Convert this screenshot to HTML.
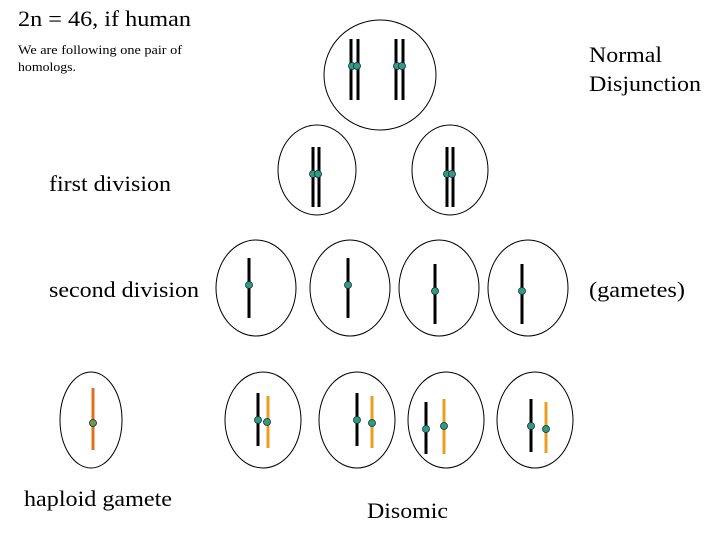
<!DOCTYPE html>
<html><head><style>
body{margin:0;background:#fff;}
svg text{font-family:"Liberation Serif",serif;fill:#000;}
</style></head><body>
<svg width="720" height="540" viewBox="0 0 720 540" xmlns="http://www.w3.org/2000/svg">
<g fill="none" stroke="#000" stroke-width="1">
<ellipse cx="380" cy="75" rx="56" ry="55"/>
<ellipse cx="317" cy="170" rx="39" ry="45"/>
<ellipse cx="450" cy="170" rx="38" ry="45"/>
<ellipse cx="256" cy="288" rx="40" ry="48"/>
<ellipse cx="350" cy="288" rx="40" ry="48"/>
<ellipse cx="439" cy="288" rx="40" ry="48"/>
<ellipse cx="528" cy="288" rx="40" ry="48"/>
<ellipse cx="91" cy="420" rx="31" ry="48"/>
<ellipse cx="263" cy="420" rx="38" ry="48"/>
<ellipse cx="357" cy="420" rx="38" ry="48"/>
<ellipse cx="446" cy="420" rx="38" ry="48"/>
<ellipse cx="535" cy="420" rx="38" ry="48"/>
</g>
<g stroke="#000" stroke-width="3">
<line x1="351" y1="39" x2="351" y2="100"/><line x1="358" y1="39" x2="358" y2="100"/>
<line x1="396" y1="39" x2="396" y2="100"/><line x1="403" y1="39" x2="403" y2="100"/>
<line x1="313" y1="147" x2="313" y2="207"/><line x1="319" y1="147" x2="319" y2="207"/>
<line x1="447" y1="147" x2="447" y2="207"/><line x1="453" y1="147" x2="453" y2="207"/>
<line x1="249" y1="258" x2="249" y2="318"/>
<line x1="348" y1="258" x2="348" y2="318"/>
<line x1="435" y1="264" x2="435" y2="324"/>
<line x1="522" y1="264" x2="522" y2="324"/>
<line x1="258" y1="393" x2="258" y2="446"/>
<line x1="357" y1="393" x2="357" y2="446"/>
<line x1="426" y1="402" x2="426" y2="454"/>
<line x1="531" y1="399" x2="531" y2="452"/>
</g>
<g stroke="#e8a020" stroke-width="3">
<line x1="93" y1="388" x2="93" y2="450" stroke="#e07020"/>
<line x1="268" y1="396" x2="268" y2="448"/>
<line x1="372" y1="396" x2="372" y2="448"/>
<line x1="444" y1="399" x2="444" y2="454"/>
<line x1="546" y1="402" x2="546" y2="453"/>
</g>
<g fill="#2e9e7a" stroke="#124" stroke-width="0.8">
<circle cx="352" cy="66" r="3.5"/><circle cx="357" cy="66" r="3.5"/>
<circle cx="397" cy="66" r="3.5"/><circle cx="402" cy="66" r="3.5"/>
<circle cx="313" cy="174" r="3.5"/><circle cx="318" cy="174" r="3.5"/>
<circle cx="447" cy="174" r="3.5"/><circle cx="452" cy="174" r="3.5"/>
<circle cx="249" cy="285" r="3.5"/><circle cx="348" cy="285" r="3.5"/>
<circle cx="435" cy="291" r="3.5"/><circle cx="522" cy="291" r="3.5"/>
<circle cx="93" cy="423" r="3.5" fill="#6a9a50"/>
<circle cx="258" cy="420" r="3.5"/><circle cx="267" cy="422" r="3.5"/>
<circle cx="357" cy="420" r="3.5"/><circle cx="372" cy="423" r="3.5"/>
<circle cx="426" cy="429" r="3.5"/><circle cx="444" cy="426" r="3.5"/>
<circle cx="531" cy="426" r="3.5"/><circle cx="546" cy="429" r="3.5"/>
</g>
<text x="18" y="26" font-size="22" textLength="173" lengthAdjust="spacingAndGlyphs">2n = 46, if human</text>
<text x="18" y="54" font-size="13" textLength="164" lengthAdjust="spacingAndGlyphs">We are following one pair of</text>
<text x="18" y="71" font-size="13" textLength="58" lengthAdjust="spacingAndGlyphs">homologs.</text>
<text x="589" y="62" font-size="22" textLength="73" lengthAdjust="spacingAndGlyphs">Normal</text>
<text x="589" y="91" font-size="22" textLength="112" lengthAdjust="spacingAndGlyphs">Disjunction</text>
<text x="49" y="191" font-size="22" textLength="122" lengthAdjust="spacingAndGlyphs">first division</text>
<text x="49" y="297" font-size="22" textLength="150" lengthAdjust="spacingAndGlyphs">second division</text>
<text x="589" y="297" font-size="22" textLength="96" lengthAdjust="spacingAndGlyphs">(gametes)</text>
<text x="24" y="506" font-size="22" textLength="148" lengthAdjust="spacingAndGlyphs">haploid gamete</text>
<text x="367" y="518" font-size="22" textLength="81" lengthAdjust="spacingAndGlyphs">Disomic</text>
</svg>
</body></html>
